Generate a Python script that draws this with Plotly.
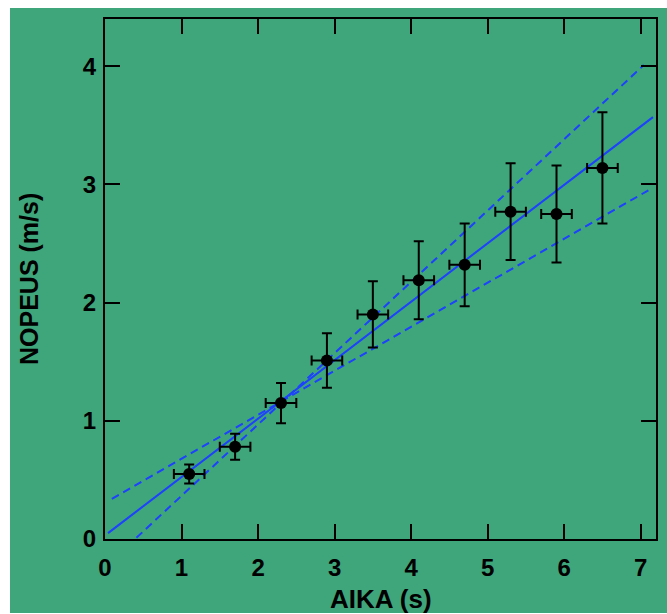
import plotly.graph_objects as go

# Measured time (s) and speed (m/s) with their uncertainties
aika = [1.1, 1.7, 2.3, 2.9, 3.5, 4.1, 4.7, 5.3, 5.9, 6.5]
nopeus = [0.55, 0.78, 1.15, 1.51, 1.90, 2.19, 2.32, 2.77, 2.75, 3.14]
aika_virhe = [0.2, 0.2, 0.2, 0.2, 0.2, 0.2, 0.2, 0.2, 0.2, 0.2]
nopeus_virhe = [0.08, 0.11, 0.17, 0.23, 0.28, 0.33, 0.35, 0.41, 0.41, 0.47]

# Fitted line and the steepest / shallowest acceptable lines (end points)
sovitus_x = [0.04, 7.16]
sovitus_y = [0.05, 3.57]
jyrkin_x = [0.41, 7.04]
jyrkin_y = [0.01, 4.01]
loivin_x = [0.09, 7.10]
loivin_y = [0.34, 2.95]

x_ticks = [0, 1, 2, 3, 4, 5, 6, 7]
y_ticks = [0, 1, 2, 3, 4]

W, H = 667, 614
L, R, T, B = 105, 11, 19, 75
pw, ph = W - L - R, H - T - B

BLUE = "#1e40ff"
GREEN = "#3ea67a"
FONT = "Liberation Sans, Arial, sans-serif"

fig = go.Figure()

fig.add_trace(go.Scatter(
    x=sovitus_x, y=sovitus_y, mode="lines",
    line=dict(color=BLUE, width=2), hoverinfo="skip", showlegend=False,
))
for lx, ly in ((jyrkin_x, jyrkin_y), (loivin_x, loivin_y)):
    fig.add_trace(go.Scatter(
        x=lx, y=ly, mode="lines",
        line=dict(color=BLUE, width=2, dash="8px,5px"),
        hoverinfo="skip", showlegend=False,
    ))

fig.add_trace(go.Scatter(
    x=aika, y=nopeus, mode="markers",
    marker=dict(color="black", size=12),
    error_x=dict(type="data", array=aika_virhe, color="black", thickness=2, width=5),
    error_y=dict(type="data", array=nopeus_virhe, color="black", thickness=2, width=5),
    showlegend=False,
))

axis_common = dict(
    showline=True, linecolor="black", linewidth=2, mirror="ticks",
    ticks="inside", ticklen=15, tickwidth=2, tickcolor="black",
    showgrid=False, zeroline=False,
    tickfont=dict(family=FONT, size=24, color="black", weight="bold"),
)

fig.update_xaxes(range=[0, 7.2], tickvals=x_ticks, ticklabelstandoff=6, **axis_common)
fig.update_yaxes(range=[0, 4.4], tickvals=y_ticks, ticklabelstandoff=2, **axis_common)

# Green backdrop behind the whole chart
fig.add_shape(
    type="rect", xref="paper", yref="paper", layer="below",
    x0=(10 - L) / pw, x1=(W - L) / pw,
    y0=((H - B) - 613) / ph, y1=((H - B) - 8) / ph,
    fillcolor=GREEN, line=dict(width=0),
)

fig.add_annotation(
    text="AIKA (s)", xref="paper", yref="paper", x=0.5, y=0,
    yanchor="middle", yshift=-60, showarrow=False,
    font=dict(family=FONT, size=26, color="black", weight="bold"),
)
fig.add_annotation(
    text="NOPEUS (m/s)", xref="paper", yref="paper", x=0, y=0.5,
    xanchor="center", xshift=-76, textangle=-90, showarrow=False,
    font=dict(family=FONT, size=25, color="black", weight="bold"),
)

fig.update_layout(
    width=W, height=H,
    margin=dict(l=L, r=R, t=T, b=B, autoexpand=False),
    paper_bgcolor="white", plot_bgcolor="rgba(0,0,0,0)",
)

fig.write_html("out.html")
